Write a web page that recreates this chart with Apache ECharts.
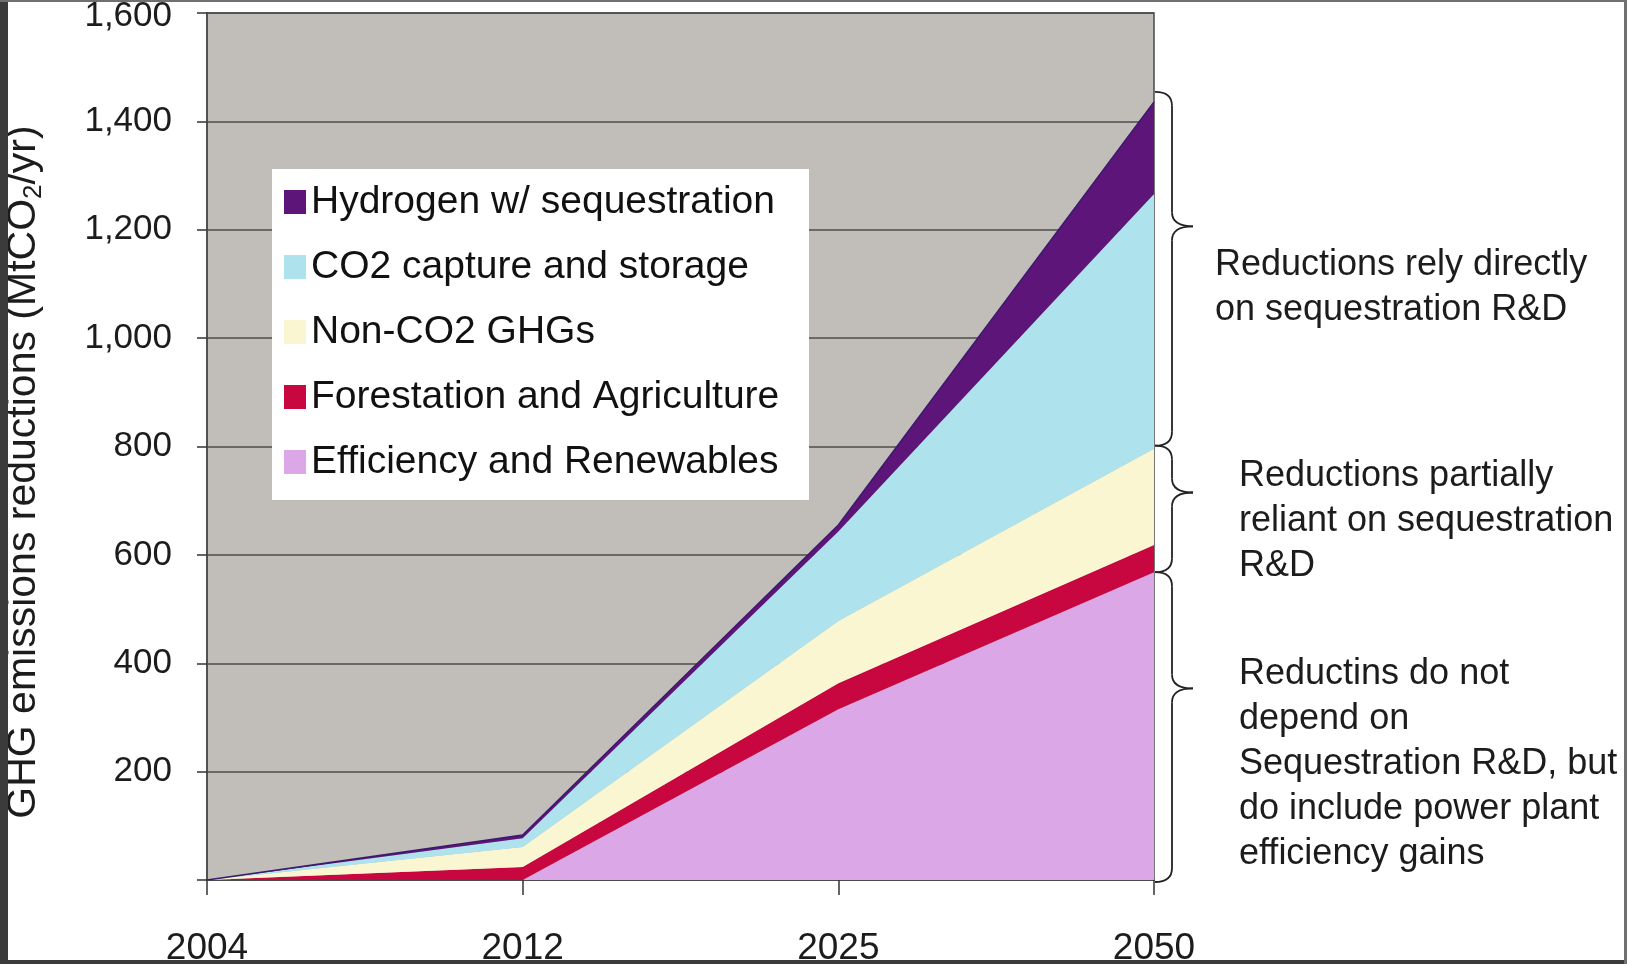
<!DOCTYPE html>
<html>
<head>
<meta charset="utf-8">
<title>GHG emissions reductions</title>
<script src="https://cdn.jsdelivr.net/npm/echarts@6/dist/echarts.min.js"></script>
<style>
html, body {margin: 0; padding: 0; background: #fff;}
#main {width: 1627px; height: 964px;}
</style>
</head>
<body>
<div id="main"></div>
<script>
// data (MtCO2/yr), stacked bottom to top
var years = ['2004', '2012', '2025', '2050'];
var efficiency = [0, 0, 315, 568];
var forestation = [0, 24, 48, 50];
var nonCO2 = [0, 37, 115, 178];
var capture = [0, 16, 165, 470];
var hydrogen = [0, 6, 12, 170];

var names = ['Efficiency and Renewables', 'Forestation and Agriculture', 'Non-CO2 GHGs',
    'CO2 capture and storage', 'Hydrogen w/ sequestration'];
var colors = ['#dba7e6', '#c8063f', '#fbf6d2', '#aee3ee', '#5d157a'];

var notes = [
    'Reductions rely directly\non sequestration R&D',
    'Reductions partially\nreliant on sequestration\nR&D',
    'Reductins do not\ndepend on\nSequestration R&D, but\ndo include power plant\nefficiency gains'
];

var font = 'Liberation Sans, Arial, sans-serif';
var myChart = echarts.init(document.getElementById('main'));

var values = [efficiency, forestation, nonCO2, capture, hydrogen];
var series = [];
for (var i = 0; i < values.length; i++) {
    series.push({
        name: names[i],
        type: 'line',
        stack: 'total',
        data: values[i],
        showSymbol: false,
        color: colors[i],
        lineStyle: i == 4 ? {width: 1.5, color: '#3b1a6e'} : {width: 0},
        areaStyle: {color: colors[i], opacity: 1}
    });
}

var option = {
    animation: false,
    backgroundColor: '#fff',
    grid: {
        left: 207, right: 473, top: 13, bottom: 84,
        outerBoundsMode: 'none',
        show: true,
        backgroundColor: '#c1beba',
        borderColor: '#4a4a4a',
        borderWidth: 1.5
    },
    legend: {
        orient: 'vertical',
        left: 284,
        top: 182,
        padding: 0,
        itemGap: 25,
        itemWidth: 22,
        itemHeight: 24,
        itemTextGap: 14,
        icon: 'rect',
        data: names.slice().reverse(),
        textStyle: {fontSize: 39, lineHeight: 40, color: '#111', fontFamily: font}
    },
    xAxis: {
        type: 'category',
        data: years,
        boundaryGap: false,
        axisLine: {lineStyle: {color: '#4a4a4a', width: 1.5}},
        axisTick: {length: 15, lineStyle: {color: '#333', width: 1.5}},
        axisLabel: {fontSize: 37, color: '#1c1c1c', margin: 50, fontFamily: font}
    },
    yAxis: {
        type: 'value',
        min: 0,
        max: 1600,
        interval: 200,
        axisLine: {show: true, lineStyle: {color: '#4a4a4a', width: 1.5}},
        axisTick: {show: true, length: 10, lineStyle: {color: '#333', width: 1.5}},
        splitLine: {lineStyle: {color: '#4d4d4d', width: 1.5}},
        axisLabel: {
            fontSize: 35, color: '#1c1c1c', margin: 35, fontFamily: font,
            formatter: function (v) {
                if (v === 0) return '';
                var s = String(v).replace(/\B(?=(\d{3})+(?!\d))/g, ',');
                // top label sits a little lower so it is not cut by the frame
                return v === 1600 ? '{t|' + s + '}' : s;
            },
            rich: {
                t: {fontSize: 35, color: '#1c1c1c', fontFamily: font, padding: [6, 0, 0, 0]}
            }
        }
    },
    series: series
};
myChart.setOption(option);

// curly brace, tip pointing right, built from lines and quadratic curves
var braceStyle = {stroke: '#222', lineWidth: 1.8, fill: null};
function brace(x0, y0, y1, ratio) {
    var xs = x0 + 17, xt = x0 + 38, r = 14;
    var yt = y0 + (y1 - y0) * ratio;
    return [
        {type: 'bezierCurve', z: 5, shape: {x1: x0, y1: y0, cpx1: xs, cpy1: y0, x2: xs, y2: y0 + r}, style: braceStyle},
        {type: 'line', z: 5, shape: {x1: xs, y1: y0 + r, x2: xs, y2: yt - r}, style: braceStyle},
        {type: 'bezierCurve', z: 5, shape: {x1: xs, y1: yt - r, cpx1: xs, cpy1: yt, x2: xt, y2: yt}, style: braceStyle},
        {type: 'bezierCurve', z: 5, shape: {x1: xt, y1: yt, cpx1: xs, cpy1: yt, x2: xs, y2: yt + r}, style: braceStyle},
        {type: 'line', z: 5, shape: {x1: xs, y1: yt + r, x2: xs, y2: y1 - r}, style: braceStyle},
        {type: 'bezierCurve', z: 5, shape: {x1: xs, y1: y1 - r, cpx1: xs, cpy1: y1, x2: x0, y2: y1}, style: braceStyle}
    ];
}

// brace limits follow the 2050 stack
var last = years.length - 1;
var topAll = 0;
for (var i = 0; i < values.length; i++) topAll += values[i][last];
var topPartial = efficiency[last] + forestation[last] + nonCO2[last];
var topEff = efficiency[last];
function px(v) { return myChart.convertToPixel({gridIndex: 0}, [last, v]); }
var pAll = px(topAll), pPart = px(topPartial), pEff = px(topEff), pZero = px(0);
var bx = pAll[0] + 1;

var graphic = [
    // white box under the legend
    {type: 'rect', z: 3, shape: {x: 272, y: 169, width: 537, height: 331}, style: {fill: '#fff'}},
    {
        type: 'text', x: 24, y: 472, rotation: Math.PI / 2,
        style: {
            text: '{a|GHG emissions reductions (MtCO}{b|2}{a|/yr)}',
            align: 'center', verticalAlign: 'middle',
            rich: {
                a: {fontSize: 41, lineHeight: 46, fill: '#1c1c1c', fontFamily: font},
                b: {fontSize: 26, lineHeight: 16, verticalAlign: 'bottom', fill: '#1c1c1c', fontFamily: font}
            }
        }
    }
];
graphic = graphic.concat(brace(bx, pAll[1] - 10, pPart[1] - 3, 0.38));
graphic = graphic.concat(brace(bx, pPart[1] - 3, pEff[1], 0.37));
graphic = graphic.concat(brace(bx, pEff[1], pZero[1] + 2, 0.375));

var noteX = [1215, 1239, 1239];
var noteY = [243, 454, 652];
for (var i = 0; i < notes.length; i++) {
    graphic.push({
        type: 'text', x: noteX[i], y: noteY[i],
        style: {text: notes[i], fontSize: 36, lineHeight: 45, fill: '#1c1c1c', fontFamily: font}
    });
}

// dark frame round the slide
graphic.push({type: 'rect', z: 100, shape: {x: 0, y: 0, width: 8, height: 964}, style: {fill: '#3b3b3b'}});
graphic.push({type: 'rect', z: 100, shape: {x: 0, y: 960, width: 1627, height: 4}, style: {fill: '#3b3b3b'}});
graphic.push({type: 'rect', z: 100, shape: {x: 0, y: 0, width: 1627, height: 2}, style: {fill: '#707070'}});
graphic.push({type: 'rect', z: 100, shape: {x: 1624, y: 0, width: 3, height: 964}, style: {fill: '#707070'}});

myChart.setOption({graphic: graphic});
</script>
</body>
</html>
